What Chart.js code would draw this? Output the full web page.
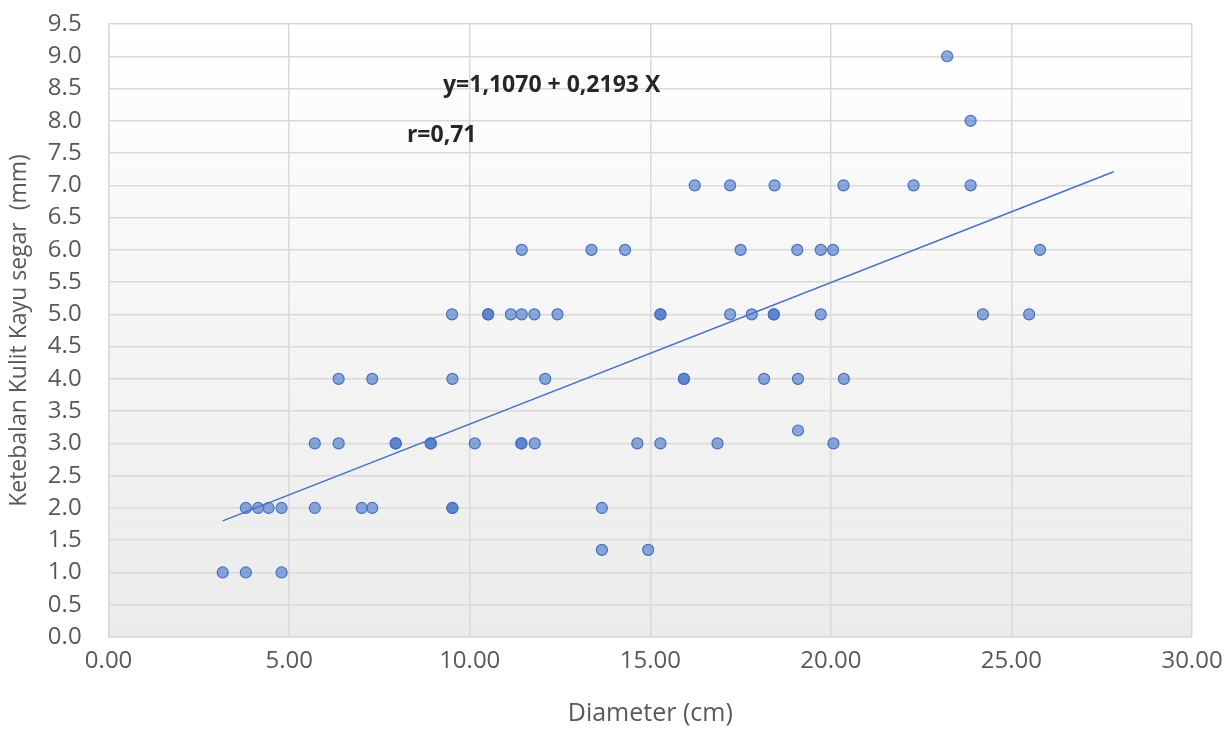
<!DOCTYPE html>
<html><head><meta charset="utf-8">
<script src="https://cdn.jsdelivr.net/npm/chart.js@4"></script>
<style>html,body{margin:0;padding:0;background:#fff;}canvas{display:block}</style>
</head><body>
<canvas id="c" width="1228" height="729"></canvas>
<script>
// Observed points (Diameter cm, bark thickness mm)
const diameterCm = [
  3.16, 3.80, 4.79,
  13.66, 14.94,
  3.80, 4.14, 4.43, 4.79, 5.71, 7.01, 7.30, 9.52, 9.52, 13.66,
  5.71, 6.37, 7.95, 7.95, 8.92, 8.92, 10.14, 11.43, 11.43, 11.80, 14.64, 15.28, 16.86, 20.07,
  19.09,
  6.37, 7.30, 9.52, 12.09, 15.93, 15.93, 18.15, 19.09, 20.36,
  9.51, 10.51, 10.51, 11.14, 11.44, 11.79, 12.43, 15.28, 15.28, 17.21, 17.81, 18.42, 18.42, 19.72, 24.21, 25.49,
  11.44, 13.37, 14.30, 17.50, 19.07, 19.72, 20.06, 25.79,
  16.23, 17.21, 18.44, 20.35, 22.29, 23.87,
  23.87,
  23.22
];
const barkMm = [
  1.0, 1.0, 1.0,
  1.35, 1.35,
  2.0, 2.0, 2.0, 2.0, 2.0, 2.0, 2.0, 2.0, 2.0, 2.0,
  3.0, 3.0, 3.0, 3.0, 3.0, 3.0, 3.0, 3.0, 3.0, 3.0, 3.0, 3.0, 3.0, 3.0,
  3.2,
  4.0, 4.0, 4.0, 4.0, 4.0, 4.0, 4.0, 4.0, 4.0,
  5.0, 5.0, 5.0, 5.0, 5.0, 5.0, 5.0, 5.0, 5.0, 5.0, 5.0, 5.0, 5.0, 5.0, 5.0, 5.0,
  6.0, 6.0, 6.0, 6.0, 6.0, 6.0, 6.0, 6.0,
  7.0, 7.0, 7.0, 7.0, 7.0, 7.0,
  8.0,
  9.0
];
// Trendline end points
const trendX = [3.16, 27.83];
const trendY = [1.80, 7.21];

const xTickLabels = ['0.00','5.00','10.00','15.00','20.00','25.00','30.00'];
const yTickLabels = ['0.0','0.5','1.0','1.5','2.0','2.5','3.0','3.5','4.0','4.5','5.0','5.5','6.0','6.5','7.0','7.5','8.0','8.5','9.0','9.5'];

const xTitle = 'Diameter (cm)';
const yTitle = 'Ketebalan Kulit Kayu segar  (mm)';
const equationText = 'y=1,1070 + 0,2193 X';
const rText = 'r=0,71';

const FONT = '"Open Sans", "Noto Sans", sans-serif';

const bgPlugin = {
  id: 'bg',
  beforeDraw(chart) {
    const {ctx, chartArea: a} = chart;
    const g = ctx.createLinearGradient(0, a.top, 0, a.bottom);
    g.addColorStop(0, '#ffffff');
    g.addColorStop(1, '#ebebeb');
    ctx.save();
    ctx.fillStyle = g;
    ctx.fillRect(a.left, a.top, a.right - a.left, a.bottom - a.top);
    ctx.restore();
  },
  afterDraw(chart) {
    const {ctx, scales: {x, y}} = chart;
    ctx.save();
    ctx.font = 'bold 23px ' + FONT;
    ctx.fillStyle = '#262626';
    ctx.textBaseline = 'middle';
    ctx.textAlign = 'left';
    ctx.fillText(equationText, x.getPixelForValue(9.26), y.getPixelForValue(8.54));
    ctx.fillText(rText, x.getPixelForValue(8.26), y.getPixelForValue(7.77));
    ctx.restore();
  }
};

const points = diameterCm.map((d, i) => ({x: d, y: barkMm[i]}));
const trend = trendX.map((d, i) => ({x: d, y: trendY[i]}));

new Chart(document.getElementById('c'), {
  type: 'scatter',
  data: {
    datasets: [
      {
        label: 'Trend',
        data: trend,
        showLine: true,
        borderColor: '#4472c4',
        borderWidth: 1.5,
        pointRadius: 0,
        fill: false,
        order: 0
      },
      {
        label: 'Data',
        data: points,
        pointRadius: 5.5,
        pointBackgroundColor: 'rgba(68,114,196,0.6)',
        pointBorderColor: '#4472c4',
        pointBorderWidth: 1.2,
        order: 1
      }
    ]
  },
  options: {
    responsive: false,
    animation: false,
    devicePixelRatio: 1,
    layout: {padding: {top: 24, right: 36, left: 0, bottom: 0}},
    plugins: {legend: {display: false}, tooltip: {enabled: false}},
    scales: {
      x: {
        type: 'linear',
        min: 0, max: 30,
        afterFit(s) { s.height = 92; s.paddingLeft = 0; s.paddingRight = 0; },
        ticks: {
          stepSize: 5,
          padding: 10,
          autoSkip: false,
          maxRotation: 0,
          color: '#595959',
          font: {family: FONT, size: 24},
          callback: (v, i) => xTickLabels[i]
        },
        grid: {color: '#d9d9d9', lineWidth: 1.5, drawTicks: false},
        border: {display: true, color: '#d9d9d9', width: 1.5},
        title: {
          display: true, text: xTitle, color: '#595959',
          font: {family: FONT, size: 25}, padding: {top: 0, bottom: 0}
        }
      },
      y: {
        type: 'linear',
        min: 0, max: 9.5,
        afterFit(s) { s.width = 108.6; s.paddingTop = 0; s.paddingBottom = 0; },
        ticks: {
          stepSize: 0.5,
          padding: 27,
          autoSkip: false,
          color: '#595959',
          font: {family: FONT, size: 24},
          callback: (v, i) => yTickLabels[i]
        },
        grid: {color: '#d9d9d9', lineWidth: 1.5, drawTicks: false},
        border: {display: true, color: '#d9d9d9', width: 1.5},
        title: {
          display: true, text: yTitle, color: '#595959',
          font: {family: FONT, size: 23}, padding: {top: 6, bottom: 0}
        }
      }
    }
  },
  plugins: [bgPlugin]
});
</script>
</body></html>
